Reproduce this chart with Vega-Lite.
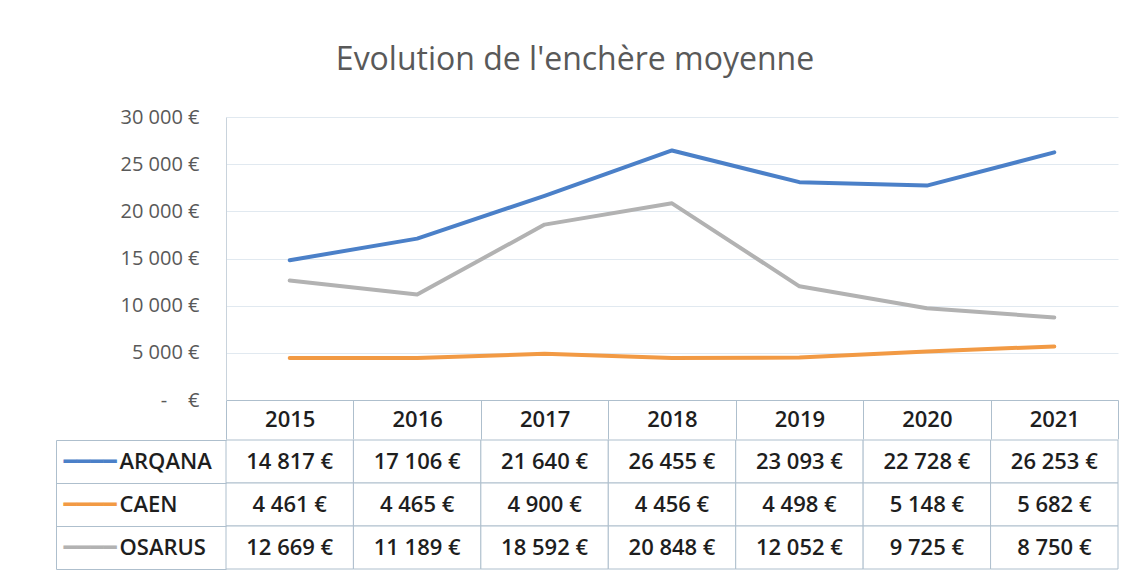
{
  "$schema": "https://vega.github.io/schema/vega-lite/v6.json",
  "padding": {"left": 55, "top": 44, "right": 10, "bottom": 4},
  "background": "white",
  "title": {"text": "Evolution de l'enchère moyenne", "fontSize": 32, "font": "Open Sans", "fontWeight": "normal", "color": "#595959", "anchor": "middle", "offset": 30, "dx": -12},
  "spacing": -12,
  "config": {
    "locale": {"number": {"decimal": ",", "thousands": " ", "grouping": [3], "currency": ["", " €"]}},
    "view": {"stroke": null},
    "font": "Open Sans"
  },
  "datasets": {
    "d": [
      {"series": "ARQANA", "year": "2015", "value": 14817},
      {"series": "ARQANA", "year": "2016", "value": 17106},
      {"series": "ARQANA", "year": "2017", "value": 21640},
      {"series": "ARQANA", "year": "2018", "value": 26455},
      {"series": "ARQANA", "year": "2019", "value": 23093},
      {"series": "ARQANA", "year": "2020", "value": 22728},
      {"series": "ARQANA", "year": "2021", "value": 26253},
      {"series": "CAEN", "year": "2015", "value": 4461},
      {"series": "CAEN", "year": "2016", "value": 4465},
      {"series": "CAEN", "year": "2017", "value": 4900},
      {"series": "CAEN", "year": "2018", "value": 4456},
      {"series": "CAEN", "year": "2019", "value": 4498},
      {"series": "CAEN", "year": "2020", "value": 5148},
      {"series": "CAEN", "year": "2021", "value": 5682},
      {"series": "OSARUS", "year": "2015", "value": 12669},
      {"series": "OSARUS", "year": "2016", "value": 11189},
      {"series": "OSARUS", "year": "2017", "value": 18592},
      {"series": "OSARUS", "year": "2018", "value": 20848},
      {"series": "OSARUS", "year": "2019", "value": 12052},
      {"series": "OSARUS", "year": "2020", "value": 9725},
      {"series": "OSARUS", "year": "2021", "value": 8750}
    ]
  },
  "vconcat": [
    {
      "width": 892,
      "height": 283,
      "data": {"name": "d"},
      "mark": {"type": "line", "strokeWidth": 4, "strokeJoin": "round", "strokeCap": "round"},
      "encoding": {
        "x": {
          "field": "year", "type": "ordinal", "bandPosition": 0.5,
          "scale": {"type": "band", "paddingInner": 0, "paddingOuter": 0},
          "axis": {"title": null, "orient": "bottom", "domain": true, "domainColor": "#aebfcd", "ticks": true, "tickBand": "extent", "tickSize": 39, "tickColor": "#aebfcd", "labelFontSize": 22, "labelFontWeight": 600, "labelColor": "#1e1e1e", "labelPadding": -30, "labelBaseline": "top", "labelAngle": 0, "grid": false}
        },
        "y": {
          "field": "value", "type": "quantitative",
          "scale": {"domain": [0, 30000], "nice": false},
          "axis": {"title": null, "values": [0, 5000, 10000, 15000, 20000, 25000, 30000], "format": "$,.0f", "labelExpr": "datum.value === 0 ? '-\u00a0\u00a0\u00a0\u00a0€' : datum.label", "labelFontSize": 20, "labelColor": "#595959", "labelPadding": 27, "ticks": false, "domain": true, "domainColor": "#c9d3dc", "grid": true, "gridColor": "#e1e9f0"}
        },
        "color": {
          "field": "series", "type": "nominal",
          "scale": {"domain": ["ARQANA", "CAEN", "OSARUS"], "range": ["#4b80c8", "#f29a44", "#b2b2b2"]},
          "legend": null
        }
      }
    },
    {
      "width": 892,
      "height": 129,
      "data": {"name": "d"},
      "layer": [
        {
          "mark": {"type": "rect", "fill": "white", "stroke": "#aebfcd", "strokeWidth": 1},
          "encoding": {
            "x": {"field": "year", "type": "ordinal", "scale": {"type": "band", "paddingInner": 0, "paddingOuter": 0}, "axis": null},
            "y": {
              "field": "series", "type": "nominal",
              "scale": {"type": "band", "paddingInner": 0, "paddingOuter": 0},
              "axis": {"title": null, "orient": "left", "offset": 0, "domain": false, "ticks": true, "tickBand": "extent", "tickSize": 170, "tickColor": "#aebfcd", "labelPadding": -63, "labelAlign": "left", "labelBaseline": "middle", "labelFontSize": 22, "labelFontWeight": 600, "labelColor": "#1e1e1e"}
            }
          }
        },
        {
          "mark": {"type": "text", "fontSize": 22, "fontWeight": 600, "color": "#1e1e1e"},
          "encoding": {
            "x": {"field": "year", "type": "ordinal", "bandPosition": 0.5, "axis": null},
            "y": {
              "field": "series", "type": "nominal", "bandPosition": 0.5,
              "axis": {"title": null, "orient": "left", "offset": 170, "domain": true, "domainColor": "#aebfcd", "ticks": false, "tickSize": 0, "labelPadding": -7, "labelAlign": "left", "labelBaseline": "middle", "labelExpr": "'━━━━'", "labelFont": "DejaVu Sans", "labelFontSize": 22, "labelColor": {"expr": "datum.value === 'ARQANA' ? '#4b80c8' : datum.value === 'CAEN' ? '#f29a44' : '#b2b2b2'"}}
            },
            "text": {"field": "value", "type": "quantitative", "format": "$,.0f"}
          }
        }
      ],
      "resolve": {"axis": {"y": "independent"}}
    }
  ]
}
